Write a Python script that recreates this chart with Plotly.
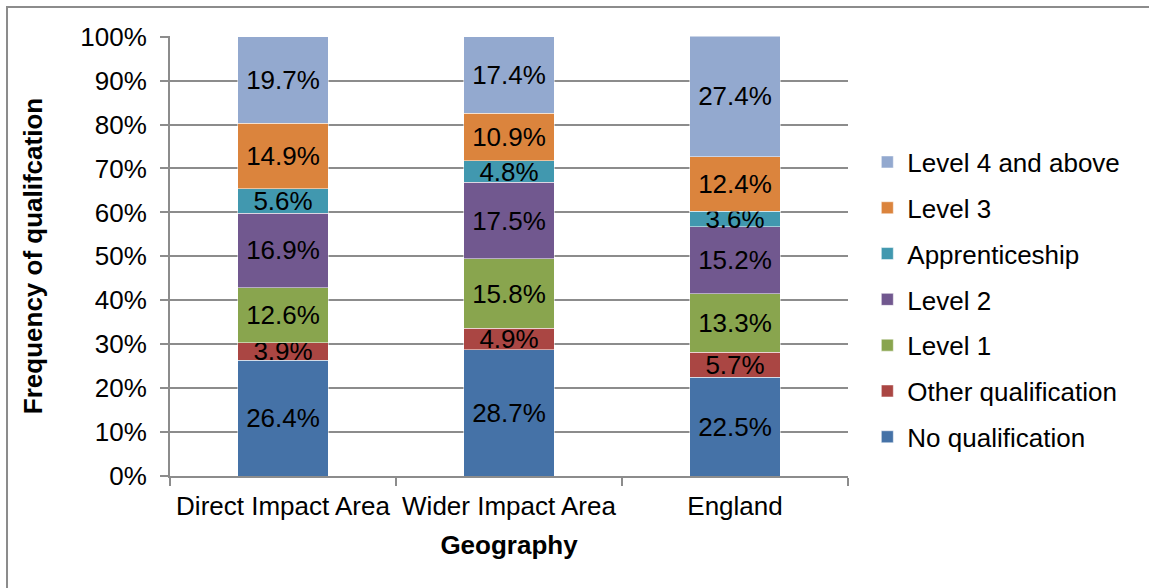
import plotly.graph_objects as go

geographies = ["Direct Impact Area", "Wider Impact Area", "England"]

# stacked bottom -> top
no_qual = [26.4, 28.7, 22.5]
other_qual = [3.9, 4.9, 5.7]
level1 = [12.6, 15.8, 13.3]
level2 = [16.9, 17.5, 15.2]
apprentice = [5.6, 4.8, 3.6]
level3 = [14.9, 10.9, 12.4]
level4 = [19.7, 17.4, 27.4]

y_ticks = list(range(0, 101, 10))

series = [
    ("No qualification", no_qual, "#4572A7"),
    ("Other qualification", other_qual, "#AA4643"),
    ("Level 1", level1, "#89A54E"),
    ("Level 2", level2, "#71588F"),
    ("Apprenticeship", apprentice, "#4198AF"),
    ("Level 3", level3, "#DB843D"),
    ("Level 4 and above", level4, "#93A9CF"),
]

FONT = "Liberation Sans, Arial, sans-serif"
GRID = "#8C8C8C"
FS = 26

fig = go.Figure()
for i, (name, vals, color) in enumerate(series):
    fig.add_trace(go.Bar(
        x=geographies, y=vals, name=name, legendgroup=name,
        legendrank=1000 - i,  # top of the stack first in the legend
        marker=dict(color=color, line=dict(color="rgba(255,255,255,0.5)", width=1)),
        text=[f"{v:.1f}%" for v in vals], textposition="inside",
        insidetextanchor="middle", textangle=0,
        textfont=dict(family=FONT, size=FS, color="black"),
        constraintext="none", cliponaxis=False,
    ))

fig.update_layout(
    width=1149, height=588,
    barmode="stack", bargap=0.6,
    paper_bgcolor="white", plot_bgcolor="white",
    margin=dict(l=170, r=301, t=36, b=112),
    font=dict(family=FONT, size=FS, color="black"),
    uniformtext=dict(minsize=FS, mode="show"),
    legend=dict(
        x=1.0285, y=0.401, xanchor="left", yanchor="middle",
        traceorder="grouped", tracegroupgap=9,
        font=dict(family=FONT, size=FS), itemwidth=30,
    ),
    shapes=[dict(type="rect", xref="paper", yref="paper",
                 x0=-0.2404, x1=1.6, y0=-0.4, y1=1.066,
                 line=dict(color="#8C8C8C", width=2), layer="below")],
)

fig.update_yaxes(
    range=[0, 100.15], tickvals=y_ticks, ticktext=[f"{t}%" for t in y_ticks],
    showgrid=True, gridcolor=GRID, gridwidth=1.5,
    showline=True, linecolor=GRID, linewidth=2,
    ticks="outside", ticklen=8, tickcolor=GRID, tickwidth=2,
    ticklabelstandoff=8,
    tickfont=dict(family=FONT, size=FS), zeroline=False,
    title=dict(text="<b>Frequency of qualifcation</b>", font=dict(family=FONT, size=FS), standoff=30),
)
fig.update_xaxes(
    showline=True, linecolor=GRID, linewidth=2,
    ticks="outside", ticklen=8, tickcolor=GRID, tickwidth=2,
    tickson="boundaries", ticklabelstandoff=6,
    tickfont=dict(family=FONT, size=FS),
    title=dict(text="<b>Geography</b>", font=dict(family=FONT, size=FS), standoff=16),
)

fig.write_html("out.html", config={"displayModeBar": False},
               post_script="document.body.style.margin='0px';")
